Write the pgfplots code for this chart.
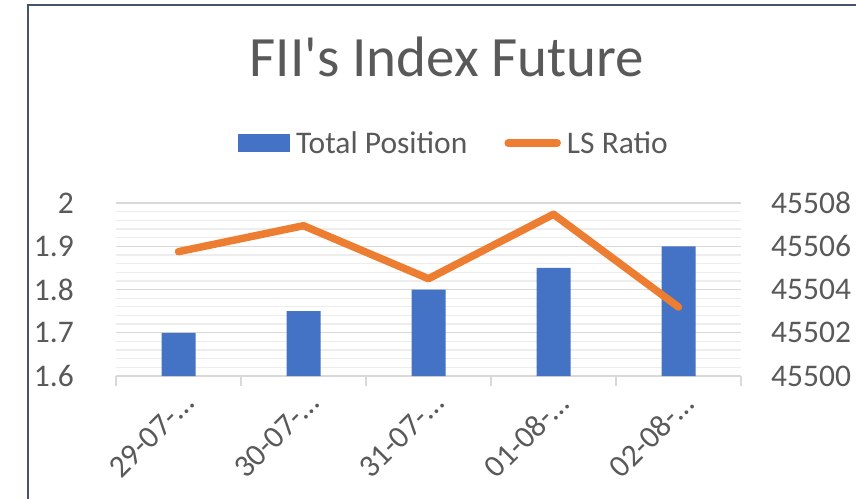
\documentclass[border=0pt]{standalone}
\usepackage{pgfplots}
\pgfplotsset{compat=1.18}
\usepackage{fontspec}
\setmainfont{Carlito}
\definecolor{barblue}{HTML}{4472C4}
\definecolor{lineorange}{HTML}{ED7D31}
\definecolor{txtgray}{HTML}{595959}
\definecolor{gridmaj}{HTML}{D9D9D9}
\definecolor{gridmin}{HTML}{EDEDED}
\definecolor{framec}{HTML}{44546A}
\begin{document}
\begin{tikzpicture}
\useasboundingbox (0,0) rectangle (856pt,-498pt);
\begin{scope}
\clip (0,0) rectangle (856pt,-498pt);
\draw[framec, line width=2.5pt] (28pt,-5pt) rectangle (900pt,-540pt);
\end{scope}
\begin{axis}[
  at={(116pt,-376pt)}, anchor=south west,
  scale only axis, width=625pt, height=173pt,
  xmin=-0.5, xmax=4.5, ymin=1.6, ymax=2,
  xtick={-0.5,0.5,1.5,2.5,3.5,4.5},
  x tick label as interval,
  xticklabels={29-07-…,30-07-…,31-07-…,01-08-…,02-08-…},
  ytick={1.6,1.7,1.8,1.9,2},
  yticklabels={1.6,1.7,1.8,1.9,2},
  minor y tick num=4,
  ymajorgrids, yminorgrids,
  major grid style={gridmaj, line width=1.3pt},
  minor grid style={gridmin, line width=1.3pt},
  axis x line*=bottom, axis y line*=left,
  y axis line style={draw=none},
  x axis line style={gridmaj, line width=1.3pt},
  tick align=outside, major tick length=10pt,
  xtick style={gridmaj, line width=1.3pt},
  ytick style={draw=none},
  minor tick style={draw=none},
  tick label style={font=\fontsize{31.5}{36}\selectfont, text=txtgray},
  yticklabel style={inner sep=0pt, xshift=-32pt},
  xticklabel style={xshift=10pt, yshift=-12pt, rotate=45, anchor=east, inner sep=0pt},
  /pgf/number format/assume math mode=true,
  title={FII\textquotesingle s Index Future},
  title style={at={(0.5296,1.694)}, anchor=base, font=\fontsize{57}{60}\selectfont, text=txtgray, inner sep=0pt},
  legend columns=2,
  legend style={at={(0.5392,1.347)}, anchor=center, draw=none, fill=none,
    inner sep=0pt, outer sep=0pt,
    font=\fontsize{31.5}{36}\selectfont, text=txtgray,
    nodes={inner sep=0pt},
    /tikz/every odd column/.append style={column sep=6pt},
    /tikz/every even column/.append style={column sep=37pt}},
]
\addplot[ybar, bar width=34pt, fill=barblue, draw=none,
  legend image code/.code={\fill[barblue] (0pt,-9pt) rectangle (52pt,9pt);}]
  coordinates {(0,1.70) (1,1.75) (2,1.80) (3,1.85) (4,1.90)};
\addlegendentry{Total Position}
\addlegendimage{legend image code/.code={\draw[lineorange, line width=7.5pt, line cap=round] (0pt,0pt) -- (49pt,0pt);}}
\addlegendentry{LS Ratio}
\end{axis}
\begin{axis}[
  at={(116pt,-376pt)}, anchor=south west,
  scale only axis, width=625pt, height=173pt,
  xmin=-0.5, xmax=4.5, ymin=45500, ymax=45508,
  ytick={45500,45502,45504,45506,45508},
  yticklabels={45500,45502,45504,45506,45508},
  scaled y ticks=false,
  axis x line=none, axis y line*=right,
  y axis line style={draw=none},
  ytick style={draw=none},
  tick label style={font=\fontsize{31.5}{36}\selectfont, text=txtgray},
  yticklabel style={inner sep=0pt, xshift=30pt},
  /pgf/number format/assume math mode=true,
]
\addplot[lineorange, line width=7.5pt, line cap=round, line join=round]
  coordinates {(0,45505.75) (1,45506.95) (2,45504.5) (3,45507.48) (4,45503.19)};
\end{axis}
\end{tikzpicture}
\end{document}
